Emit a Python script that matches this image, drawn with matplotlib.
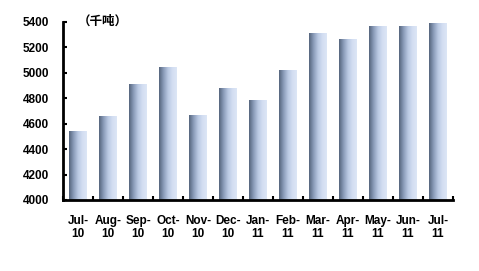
import numpy as np
import matplotlib.pyplot as plt
from matplotlib.colors import LinearSegmentedColormap

months = ['Jul-\n10', 'Aug-\n10', 'Sep-\n10', 'Oct-\n10', 'Nov-\n10', 'Dec-\n10', 'Jan-\n11',
          'Feb-\n11', 'Mar-\n11', 'Apr-\n11', 'May-\n11', 'Jun-\n11', 'Jul-\n11']
values = [4543, 4661, 4912, 5046, 4669, 4881, 4787, 5022, 5313, 5266, 5369, 5369, 5392]
yticks = [4000, 4200, 4400, 4600, 4800, 5000, 5200, 5400]

plt.rcParams['font.family'] = ['Liberation Sans', 'DejaVu Sans']

fig = plt.figure(figsize=(4.79, 2.71), dpi=100)
ax = fig.add_axes([63/479, 1 - 200/271, 390/479, 178/271])

cmap = LinearSegmentedColormap.from_list('bar', ['#55657d', '#8a9bb8', '#b9c8e2', '#d3def2', '#dce6f6'])
grad = np.linspace(0, 1, 64).reshape(1, -1)

x = np.arange(len(values))
bars = ax.bar(x, np.array(values) - 4000, bottom=4000, width=0.6, color='none', edgecolor='none')
for b in bars:
    x0, y0 = b.get_x(), b.get_y()
    im = ax.imshow(grad, cmap=cmap, aspect='auto', extent=(x0, x0 + b.get_width(), y0, y0 + b.get_height()),
                   zorder=2, interpolation='bicubic')
    im.set_clip_path(b)

ax.set_xlim(-0.5, len(values) - 0.5)
ax.set_ylim(4000, 5400)
ax.set_yticks(yticks)
ax.set_yticklabels([str(v) for v in yticks], fontsize=8.5, fontweight='bold')
ax.set_xticks(x)
ax.set_xticklabels(months, fontsize=8.5, fontweight='bold', linespacing=1.15)
ax.set_xticks(np.arange(len(values) + 1) - 0.5, minor=True)
ax.tick_params(axis='x', which='major', length=0, pad=10.5)
ax.tick_params(axis='x', which='minor', direction='in', length=3, width=1.5)
ax.tick_params(axis='y', direction='in', length=3, width=1.5, pad=10)

for s in ['top', 'right']:
    ax.spines[s].set_visible(False)
for s in ['left', 'bottom']:
    ax.spines[s].set_linewidth(2)

fig.text(78/479, 1 - 21/271, '（千吨）', fontsize=9, fontweight='bold', va='center',
         family=['Noto Sans CJK SC', 'DejaVu Sans'])

fig.savefig('out.png', dpi=100)
